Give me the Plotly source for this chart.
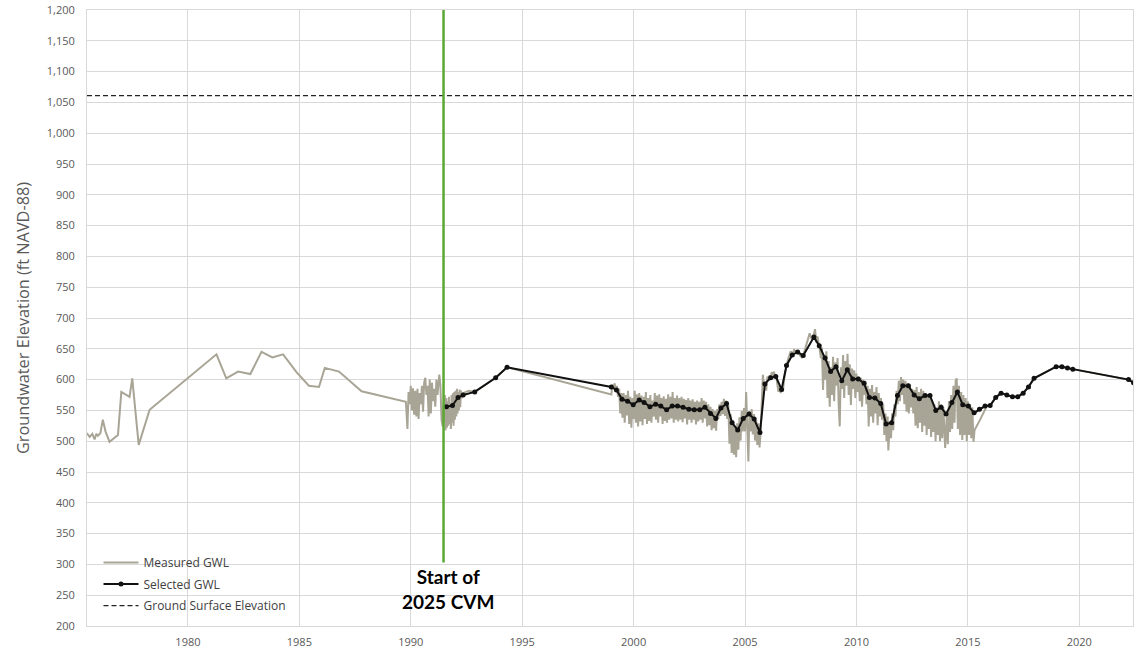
import plotly.graph_objects as go

# ---------------- data ----------------
ground_surface_elev = 1061
cvm_start_year = 1991.47
cvm_line_bottom = 303

# Measured GWL (year, elevation) by period
measured_1975_1990 = [
    (1975.46, 513), (1975.59, 507), (1975.71, 512), (1975.81, 503), (1975.89, 512),
    (1975.96, 509), (1976.07, 513), (1976.18, 535), (1976.30, 516), (1976.48, 499),
    (1976.86, 510), (1977.01, 580), (1977.38, 572), (1977.50, 602), (1977.79, 494),
    (1978.28, 551), (1981.28, 641), (1981.72, 602), (1982.25, 613), (1982.80, 609),
    (1983.30, 645), (1983.79, 636), (1984.27, 641), (1984.87, 612), (1985.43, 590),
    (1985.88, 588), (1986.14, 619), (1986.78, 613), (1987.79, 581), (1989.78, 564),
]
measured_1990_1991 = [
    (1989.85, 520), (1989.90, 580), (1989.95, 560), (1990.00, 590), (1990.05, 550),
    (1990.10, 586), (1990.15, 543), (1990.20, 582), (1990.25, 540), (1990.30, 585),
    (1990.35, 536), (1990.40, 578), (1990.45, 560), (1990.50, 590), (1990.55, 548),
    (1990.60, 595), (1990.65, 603), (1990.70, 575), (1990.75, 590), (1990.80, 540),
    (1990.85, 600), (1990.90, 545), (1990.95, 595), (1991.00, 565), (1991.05, 585),
    (1991.10, 556), (1991.15, 600), (1991.20, 575), (1991.28, 608), (1991.33, 590),
    (1991.38, 535), (1991.43, 524), (1991.47, 560),
]
measured_1991_1999 = [
    (1991.50, 530), (1991.53, 575), (1991.56, 518), (1991.59, 570), (1991.62, 522),
    (1991.65, 565), (1991.68, 525), (1991.71, 572), (1991.74, 528), (1991.77, 560),
    (1991.80, 520), (1991.83, 575), (1991.86, 530), (1991.89, 578), (1991.92, 525),
    (1991.95, 580), (1991.98, 535), (1992.01, 582), (1992.04, 540), (1992.07, 585),
    (1992.10, 545), (1992.13, 580), (1992.16, 550), (1992.19, 584), (1992.22, 555),
    (1992.25, 582), (1992.30, 570), (1992.35, 578), (1992.45, 580), (1992.60, 582),
    (1992.87, 580), (1993.81, 603), (1994.32, 620),
]
measured_1999_2005 = [
    (1999.00, 576), (1999.05, 592), (1999.10, 585), (1999.15, 594), (1999.20, 580),
    (1999.25, 590), (1999.30, 572), (1999.35, 585), (1999.40, 545), (1999.45, 578),
    (1999.50, 538), (1999.55, 578), (1999.60, 530), (1999.65, 575), (1999.70, 542),
    (1999.75, 582), (1999.80, 528), (1999.85, 572), (1999.90, 522), (1999.95, 570),
    (2000.00, 536), (2000.05, 582), (2000.10, 530), (2000.15, 576), (2000.20, 524),
    (2000.25, 578), (2000.30, 532), (2000.35, 574), (2000.40, 526), (2000.45, 572),
    (2000.50, 536), (2000.55, 580), (2000.60, 528), (2000.65, 570), (2000.70, 533),
    (2000.75, 575), (2000.80, 530), (2000.85, 566), (2000.90, 540), (2000.95, 578),
    (2001.00, 535), (2001.05, 574), (2001.10, 530), (2001.15, 576), (2001.20, 540),
    (2001.25, 570), (2001.30, 528), (2001.35, 573), (2001.40, 533), (2001.45, 569),
    (2001.50, 530), (2001.55, 576), (2001.60, 535), (2001.65, 572), (2001.70, 537),
    (2001.75, 580), (2001.80, 530), (2001.85, 570), (2001.90, 535), (2001.95, 574),
    (2002.00, 532), (2002.05, 570), (2002.10, 535), (2002.15, 572), (2002.20, 531),
    (2002.25, 569), (2002.30, 537), (2002.35, 567), (2002.40, 527), (2002.45, 570),
    (2002.50, 535), (2002.55, 566), (2002.60, 530), (2002.65, 568), (2002.70, 535),
    (2002.75, 564), (2002.80, 527), (2002.85, 566), (2002.90, 532), (2002.95, 564),
    (2003.00, 535), (2003.05, 570), (2003.10, 530), (2003.15, 566), (2003.20, 537),
    (2003.25, 564), (2003.30, 524), (2003.35, 560), (2003.40, 526), (2003.45, 556),
    (2003.50, 518), (2003.55, 552), (2003.60, 521), (2003.65, 549), (2003.70, 517),
    (2003.75, 552), (2003.80, 536), (2003.85, 560), (2003.90, 541), (2003.95, 564),
    (2004.00, 544), (2004.05, 569), (2004.10, 541), (2004.15, 566), (2004.20, 536),
    (2004.25, 559), (2004.30, 496), (2004.35, 544), (2004.40, 481), (2004.45, 534),
    (2004.50, 478), (2004.55, 524), (2004.60, 474), (2004.65, 529), (2004.70, 486),
    (2004.75, 539), (2004.80, 501), (2004.85, 549), (2004.90, 516), (2004.95, 554),
    (2005.00, 516), (2005.05, 580), (2005.10, 526), (2005.15, 467), (2005.20, 549),
    (2005.25, 516), (2005.30, 552), (2005.35, 511), (2005.40, 544), (2005.45, 501),
    (2005.50, 534), (2005.55, 494), (2005.60, 529), (2005.65, 490), (2005.70, 515),
    (2005.75, 560), (2005.80, 608), (2005.85, 590),
]
measured_2006_2016 = [
    (2005.90, 595), (2005.95, 582), (2006.00, 605), (2006.05, 598), (2006.10, 607),
    (2006.15, 603), (2006.20, 612), (2006.25, 607), (2006.30, 613), (2006.35, 604),
    (2006.40, 606), (2006.45, 592), (2006.50, 580), (2006.55, 590), (2006.60, 578),
    (2006.65, 586), (2006.70, 581), (2006.75, 600), (2006.80, 615), (2006.86, 623),
    (2006.95, 635), (2007.05, 646), (2007.12, 640), (2007.20, 648), (2007.30, 645),
    (2007.36, 645), (2007.45, 640), (2007.55, 636), (2007.61, 639), (2007.70, 650),
    (2007.80, 660), (2007.90, 675), (2008.00, 665), (2008.08, 672), (2008.14, 682),
    (2008.20, 660), (2008.25, 670), (2008.30, 662), (2008.35, 650), (2008.40, 635),
    (2008.45, 652), (2008.50, 583), (2008.55, 640), (2008.60, 600), (2008.65, 646),
    (2008.70, 570), (2008.75, 630), (2008.80, 556), (2008.85, 620), (2008.90, 575),
    (2008.95, 637), (2009.00, 565), (2009.05, 628), (2009.10, 590), (2009.15, 635),
    (2009.20, 560), (2009.25, 524), (2009.30, 620), (2009.35, 585), (2009.40, 640),
    (2009.45, 570), (2009.50, 630), (2009.55, 590), (2009.60, 642), (2009.65, 575),
    (2009.70, 625), (2009.75, 559), (2009.80, 618), (2009.85, 585), (2009.90, 615),
    (2009.95, 570), (2010.00, 610), (2010.05, 580), (2010.10, 605), (2010.15, 565),
    (2010.20, 603), (2010.25, 556), (2010.30, 600), (2010.35, 575), (2010.40, 598),
    (2010.45, 560), (2010.50, 590), (2010.55, 524), (2010.60, 585), (2010.65, 540),
    (2010.70, 591), (2010.75, 530), (2010.80, 580), (2010.85, 545), (2010.90, 588),
    (2010.95, 526), (2011.00, 578), (2011.05, 540), (2011.10, 570), (2011.15, 535),
    (2011.20, 560), (2011.25, 510), (2011.30, 545), (2011.35, 500), (2011.40, 540),
    (2011.43, 485), (2011.50, 532), (2011.55, 505), (2011.60, 545), (2011.65, 518),
    (2011.70, 560), (2011.75, 540), (2011.80, 582), (2011.85, 560), (2011.90, 598),
    (2011.95, 565), (2012.00, 604), (2012.05, 575), (2012.10, 600), (2012.15, 560),
    (2012.20, 598), (2012.25, 548), (2012.30, 594), (2012.35, 545), (2012.40, 590),
    (2012.45, 555), (2012.50, 585), (2012.55, 545), (2012.60, 583), (2012.65, 525),
    (2012.70, 588), (2012.75, 521), (2012.80, 580), (2012.85, 530), (2012.90, 585),
    (2012.95, 515), (2013.00, 582), (2013.05, 525), (2013.10, 578), (2013.15, 510),
    (2013.20, 575), (2013.25, 520), (2013.30, 570), (2013.35, 507), (2013.40, 565),
    (2013.45, 515), (2013.50, 560), (2013.55, 500), (2013.60, 555), (2013.65, 510),
    (2013.70, 565), (2013.75, 500), (2013.80, 560), (2013.85, 505), (2013.90, 555),
    (2013.98, 489), (2014.05, 540), (2014.10, 495), (2014.15, 565), (2014.20, 515),
    (2014.25, 575), (2014.30, 520), (2014.35, 590), (2014.40, 530), (2014.45, 598),
    (2014.50, 602), (2014.55, 520), (2014.60, 590), (2014.65, 510), (2014.70, 580),
    (2014.75, 502), (2014.80, 575), (2014.85, 510), (2014.90, 570), (2014.95, 500),
    (2015.00, 565), (2015.05, 510), (2015.10, 560), (2015.15, 505), (2015.20, 555),
    (2015.25, 499), (2015.30, 518), (2015.55, 535), (2015.77, 552), (2015.85, 557),
    (2016.00, 558),
]
measured_2016_2022 = [
    (2016.25, 571), (2016.49, 578), (2016.75, 575), (2017.00, 572), (2017.24, 572),
    (2017.48, 578), (2017.72, 588), (2017.97, 602), (2018.96, 621), (2019.22, 621),
    (2019.47, 619), (2019.71, 617), (2022.21, 600), (2022.43, 595),
]

# Selected GWL
selected_years = [
    1991.60, 1991.87, 1992.12, 1992.35, 1992.87, 1993.81, 1994.32,
    1999.00, 1999.23, 1999.48, 1999.73, 1999.98,
    2000.25, 2000.47, 2000.73, 2000.99, 2001.22, 2001.48, 2001.73, 2001.97,
    2002.22, 2002.48, 2002.72, 2002.97, 2003.20, 2003.45, 2003.69, 2003.92,
    2004.17, 2004.42, 2004.67, 2004.92, 2005.18, 2005.41, 2005.67,
    2005.89, 2006.15, 2006.38, 2006.64, 2006.86, 2007.12, 2007.36, 2007.61,
    2008.09, 2008.33, 2008.59, 2008.84, 2009.08, 2009.34, 2009.59, 2009.83,
    2010.08, 2010.34, 2010.58, 2010.83, 2011.09, 2011.33, 2011.58, 2011.84,
    2012.08, 2012.33, 2012.59, 2012.82, 2013.08, 2013.30, 2013.56, 2013.80,
    2014.02, 2014.28, 2014.53, 2014.77, 2015.02, 2015.28, 2015.52, 2015.77,
    2016.00, 2016.25, 2016.49, 2016.75, 2017.00, 2017.24, 2017.48, 2017.72, 2017.97,
    2018.96, 2019.22, 2019.47, 2019.71, 2022.21, 2022.43,
]
selected_gwl = [
    556, 558, 571, 575, 580, 603, 620,
    588, 583, 568, 565, 559,
    567, 563, 556, 560, 557, 551, 557, 557,
    555, 552, 551, 551, 555, 545, 537, 554,
    561, 530, 518, 537, 544, 536, 514,
    593, 603, 605, 584, 623, 640, 645, 639,
    669, 655, 635, 613, 621, 598, 616, 601,
    601, 594, 571, 570, 561, 528, 530, 574,
    590, 590, 575, 569, 574, 574, 550, 555,
    544, 563, 580, 559, 557, 546, 552, 557,
    558, 571, 578, 575, 572, 572, 578, 588, 602,
    621, 621, 619, 617, 600, 595,
]
assert len(selected_years) == len(selected_gwl)

x_ticks = [1980, 1985, 1990, 1995, 2000, 2005, 2010, 2015, 2020]
x_range = [1975.47, 2022.41]
y_range = [200, 1200]

measured = (measured_1975_1990 + measured_1990_1991 + measured_1991_1999
            + measured_1999_2005 + measured_2006_2016 + measured_2016_2022)
measured_years = [p[0] for p in measured]
measured_gwl = [p[1] for p in measured]

# ---------------- figure ----------------
fig = go.Figure()
fig.add_trace(go.Scatter(
    x=measured_years, y=measured_gwl, mode="lines", name="Measured GWL",
    legendgroup="m", line=dict(color="#a9a596", width=2)))
fig.add_trace(go.Scatter(
    x=selected_years, y=selected_gwl, mode="lines+markers", name="Selected GWL",
    legendgroup="s",
    line=dict(color="#111111", width=2), marker=dict(color="#111111", size=5)))
fig.add_trace(go.Scatter(
    x=x_range, y=[ground_surface_elev, ground_surface_elev], mode="lines",
    name="Ground Surface Elevation", legendgroup="g",
    line=dict(color="#222222", width=1.4, dash="5px,3px")))

fig.add_shape(type="line", xref="x", yref="y",
              x0=cvm_start_year, x1=cvm_start_year,
              y0=cvm_line_bottom, y1=y_range[1],
              line=dict(color="#5aa832", width=2.5), layer="above")

fig.add_annotation(x=cvm_start_year, y=260, xref="x", yref="y",
                   text="<b>Start of<br>2025 CVM</b>", showarrow=False,
                   xshift=4, font=dict(family="Lato", size=19, color="#000000"),
                   align="center")

axis_font = dict(family="Open Sans", size=11, color="#595959")
fig.update_layout(
    width=1143, height=650,
    margin=dict(l=87, r=10, t=10, b=24),
    plot_bgcolor="white", paper_bgcolor="white",
    showlegend=True,
    legend=dict(x=0.011, y=0.1265, xanchor="left", yanchor="top",
                bgcolor="rgba(0,0,0,0)", tracegroupgap=2.5, itemwidth=35,
                font=dict(family="Open Sans", size=12, color="#404040"),
                traceorder="grouped"),
    xaxis=dict(range=x_range, tickmode="array", tickvals=x_ticks,
               showgrid=True, gridcolor="#d9d9d9", gridwidth=1,
               showline=True, linecolor="#d9d9d9", mirror=True,
               zeroline=False, ticks="", tickfont=axis_font,
               ticklabelstandoff=6, automargin=False),
    yaxis=dict(range=y_range, dtick=50, tick0=200, tickformat=",d",
               showgrid=True, gridcolor="#d9d9d9", gridwidth=1,
               showline=True, linecolor="#d9d9d9", mirror=True,
               zeroline=False, ticks="", tickfont=axis_font,
               ticklabelstandoff=9, automargin=False,
               title=dict(text="Groundwater Elevation (ft NAVD-88)",
                          font=dict(family="Open Sans", size=16.3, color="#595959"),
                          standoff=13)),
)

fig.write_html("out.html")
